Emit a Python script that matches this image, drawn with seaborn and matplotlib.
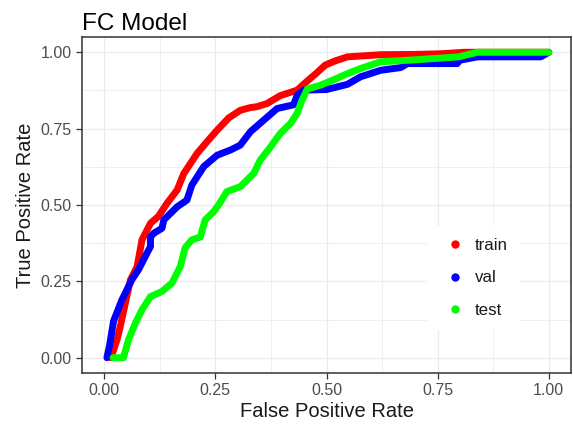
import numpy as np
import pandas as pd
import matplotlib
matplotlib.use("Agg")
import matplotlib.pyplot as plt
from matplotlib.lines import Line2D
import seaborn as sns

# ---- data ----
train_fpr = [0.015, 0.029, 0.036, 0.059, 0.074, 0.085, 0.104, 0.122, 0.141, 0.164, 0.179, 0.209, 0.230, 0.254,
             0.280, 0.306, 0.329, 0.344, 0.366, 0.396, 0.434, 0.456, 0.480, 0.497, 0.520, 0.547, 0.622, 0.700,
             0.757, 0.810, 1.000]
train_tpr = [0.000, 0.060, 0.102, 0.255, 0.298, 0.386, 0.440, 0.463, 0.505, 0.549, 0.603, 0.669, 0.705, 0.745,
             0.785, 0.810, 0.819, 0.822, 0.832, 0.858, 0.876, 0.905, 0.935, 0.958, 0.972, 0.985, 0.992, 0.993,
             0.995, 1.000, 1.000]

val_fpr = [0.006, 0.012, 0.021, 0.040, 0.062, 0.077, 0.096, 0.104, 0.104, 0.111, 0.130, 0.134, 0.164, 0.186,
           0.197, 0.224, 0.254, 0.284, 0.306, 0.329, 0.359, 0.389, 0.426, 0.434, 0.449, 0.500, 0.547, 0.577,
           0.622, 0.667, 0.682, 0.794, 0.800, 0.840, 0.982, 1.000]
val_tpr = [0.000, 0.040, 0.120, 0.190, 0.255, 0.288, 0.342, 0.364, 0.395, 0.407, 0.424, 0.451, 0.494, 0.516,
           0.565, 0.626, 0.663, 0.680, 0.696, 0.740, 0.778, 0.816, 0.828, 0.859, 0.876, 0.878, 0.895, 0.920,
           0.941, 0.950, 0.963, 0.963, 0.974, 0.985, 0.985, 1.000]

test_fpr = [0.020, 0.043, 0.055, 0.070, 0.085, 0.104, 0.130, 0.152, 0.171, 0.182, 0.197, 0.216, 0.227, 0.246,
            0.257, 0.276, 0.306, 0.336, 0.351, 0.374, 0.396, 0.419, 0.434, 0.445, 0.457, 0.486, 0.516, 0.547,
            0.577, 0.622, 0.697, 0.797, 0.839, 1.000]
test_tpr = [0.000, 0.000, 0.060, 0.113, 0.157, 0.200, 0.217, 0.244, 0.298, 0.360, 0.386, 0.395, 0.451, 0.478,
            0.500, 0.544, 0.560, 0.603, 0.647, 0.690, 0.734, 0.767, 0.800, 0.843, 0.880, 0.892, 0.910, 0.930,
            0.947, 0.969, 0.975, 0.985, 1.000, 1.000]

series_names = ["train", "val", "test"]
series_colors = ["#FF0000", "#0000FF", "#00FF00"]
tick_values = [0.00, 0.25, 0.50, 0.75, 1.00]
tick_labels = ["0.00", "0.25", "0.50", "0.75", "1.00"]
minor_values = [0.125, 0.375, 0.625, 0.875]

frames = []
for name, fx, fy in zip(series_names, [train_fpr, val_fpr, test_fpr], [train_tpr, val_tpr, test_tpr]):
    frames.append(pd.DataFrame({"fpr": fx, "tpr": fy, "set": name, "order": np.arange(len(fx))}))
df = pd.concat(frames, ignore_index=True)

# ---- styling ----
sns.set_theme(style="white")
plt.rcParams["font.family"] = ["Liberation Sans", "DejaVu Sans"]

fig = plt.figure(figsize=(5.73, 4.29), dpi=100)
ax = fig.add_axes([82 / 573, 1 - 373 / 429, (571 - 82) / 573, (373 - 37) / 429])

grid_col = "#EBEBEB"
ax.set_xticks(tick_values)
ax.set_yticks(tick_values)
ax.set_xticks(minor_values, minor=True)
ax.set_yticks(minor_values, minor=True)
ax.grid(True, which="major", color=grid_col, linewidth=0.9)
ax.grid(True, which="minor", color=grid_col, linewidth=0.55)
ax.set_axisbelow(True)

sns.lineplot(data=df, x="fpr", y="tpr", hue="set", hue_order=series_names,
             palette=dict(zip(series_names, series_colors)), sort=False, estimator=None,
             units="set", linewidth=5.0, legend=False, ax=ax,
             solid_capstyle="round", solid_joinstyle="round")

ax.set_xlim(-0.05, 1.05)
ax.set_ylim(-0.05, 1.05)
ax.set_xticklabels(tick_labels)
ax.set_yticklabels(tick_labels)

for s in ax.spines.values():
    s.set_color("#333333")
    s.set_linewidth(1.1)

ax.tick_params(axis="both", which="major", length=4, width=0.9, color="#333333",
               labelsize=11.5, labelcolor="#4D4D4D", bottom=True, left=True)
ax.tick_params(axis="x", which="major", pad=3)
ax.tick_params(axis="y", which="major", pad=3.5)
ax.tick_params(axis="both", which="minor", length=0)

ax.set_xlabel("False Positive Rate", fontsize=14.5, color="#1A1A1A", labelpad=3)
ax.set_ylabel("True Positive Rate", fontsize=14.5, color="#1A1A1A", labelpad=4)
ax.set_title("FC Model", loc="left", fontsize=17.5, color="#000000", pad=5)

handles = [Line2D([0], [0], marker="o", linestyle="none", markersize=5,
                  markerfacecolor=c, markeredgecolor=c) for c in series_colors]
leg = ax.legend(handles, series_names, loc="center", bbox_to_anchor=(473 / 573, 1 - 278 / 429),
                bbox_transform=fig.transFigure, fontsize=12.2, frameon=True, fancybox=False,
                facecolor="white", edgecolor="none", framealpha=1, borderpad=0.7,
                handlelength=1.92, handletextpad=0.2, labelspacing=1.02)
for t in leg.get_texts():
    t.set_color("#1A1A1A")

fig.savefig("out.png", dpi=100, facecolor="white")
